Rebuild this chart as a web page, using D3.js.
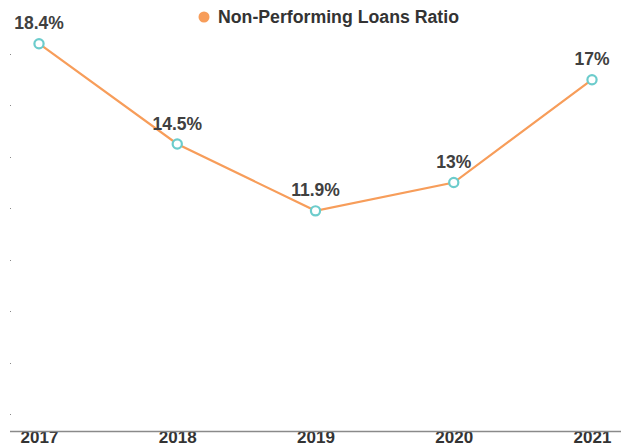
<!DOCTYPE html>
<html>
<head>
<meta charset="utf-8">
<script src="https://cdn.jsdelivr.net/npm/d3@7"></script>
<style>
  html, body { margin: 0; padding: 0; background: #ffffff; }
  svg { display: block; font-family: "Liberation Sans", Arial, Helvetica, sans-serif; }
</style>
</head>
<body>
<div id="chart"></div>
<script>
const years = ["2017", "2018", "2019", "2020", "2021"];
const npl = [18.4, 14.5, 11.9, 13, 17];
const labels = ["18.4%", "14.5%", "11.9%", "13%", "17%"];
const yTicks = [4, 6, 8, 10, 12, 14, 16, 18];
const seriesName = "Non-Performing Loans Ratio";

const W = 621, H = 447;
const svg = d3.select("#chart").append("svg").attr("width", W).attr("height", H);

const x = d3.scalePoint().domain(years).range([39, 592]);
const y = d3.scaleLinear().domain([4, 18]).range([414, 54]);

// y tick stubs (tiny dots)
svg.append("g").selectAll("rect").data(yTicks).join("rect")
  .attr("x", 10).attr("y", d => Math.round(y(d)))
  .attr("width", 1).attr("height", 1)
  .attr("fill", "#888");

// x axis
const xAxis = d3.axisBottom(x).tickSize(0).tickPadding(0);
const gx = svg.append("g").attr("transform", "translate(0,431)").call(xAxis);
gx.select(".domain").remove();
svg.append("line").attr("x1", 10).attr("x2", W).attr("y1", 431.5).attr("y2", 431.5)
  .attr("stroke", "#8a8a8a").attr("stroke-width", 1.3);
gx.selectAll("text")
  .attr("y", 12).attr("dy", null)
  .attr("font-size", 17).attr("font-weight", "bold").attr("fill", "#333")
  .attr("font-family", "'Liberation Sans', Arial, sans-serif");

// line
const line = d3.line().x((d, i) => x(years[i])).y(d => y(d));
svg.append("path").datum(npl)
  .attr("d", line).attr("fill", "none")
  .attr("stroke", "#f79d5a").attr("stroke-width", 2.2);

// markers
svg.append("g").selectAll("circle").data(npl).join("circle")
  .attr("cx", (d, i) => x(years[i])).attr("cy", d => y(d))
  .attr("r", 4.6).attr("fill", "#fff")
  .attr("stroke", "#6ccccc").attr("stroke-width", 2.2);

// data labels
svg.append("g").selectAll("text").data(npl).join("text")
  .attr("x", (d, i) => x(years[i])).attr("y", d => y(d) - 14.5)
  .attr("text-anchor", "middle")
  .attr("font-size", 17.5).attr("font-weight", "bold").attr("fill", "#404040")
  .text((d, i) => labels[i]);

// legend
const lg = svg.append("g");
lg.append("circle").attr("cx", 204).attr("cy", 17).attr("r", 5.5).attr("fill", "#f79d5a");
lg.append("text").attr("x", 218).attr("y", 23)
  .attr("font-size", 17.5).attr("font-weight", "bold").attr("fill", "#333")
  .attr("textLength", 241).attr("lengthAdjust", "spacingAndGlyphs")
  .text(seriesName);
</script>
</body>
</html>
